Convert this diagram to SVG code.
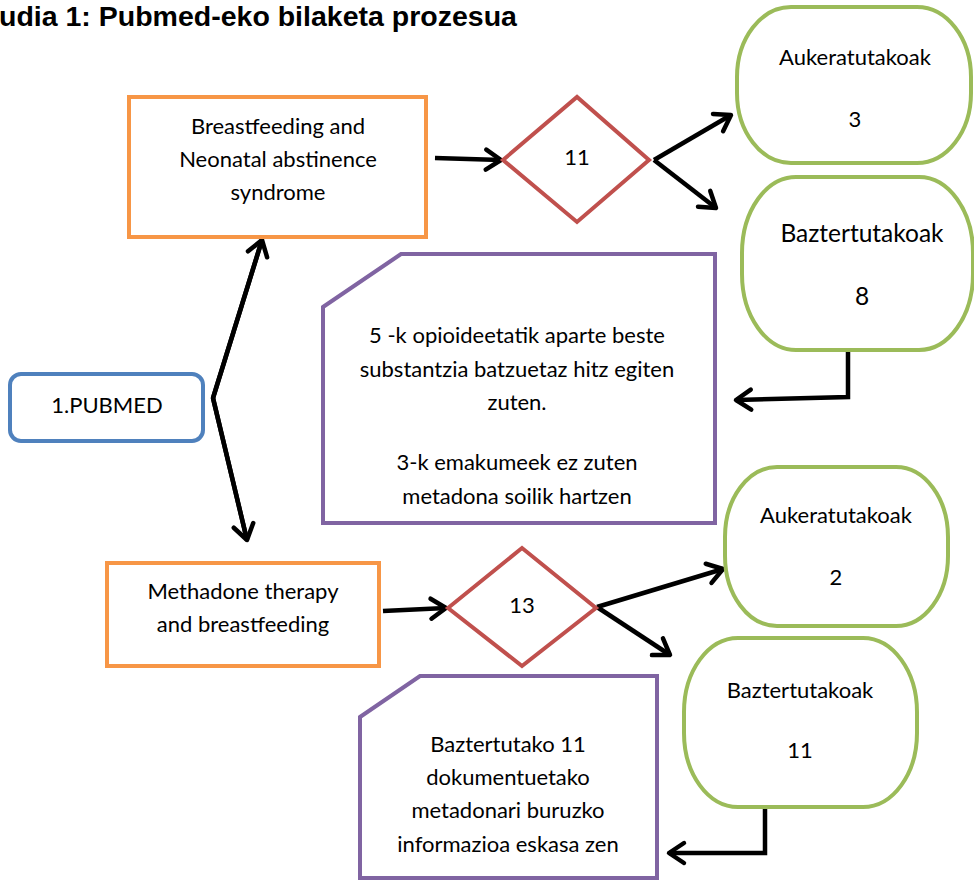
<svg xmlns="http://www.w3.org/2000/svg" width="974" height="881" viewBox="0 0 974 881">
<style>
.t{font-family:Lato,"Liberation Sans",sans-serif;font-size:22px;fill:#000;text-anchor:middle}
.big{font-size:24.5px}
.or{fill:#fff;stroke:#F79646;stroke-width:4}
.rd{fill:#fff;stroke:#C0504D;stroke-width:4}
.gr{fill:#fff;stroke:#9BBB59;stroke-width:4}
.pu{fill:#fff;stroke:#8064A2;stroke-width:4}
.bl{fill:#fff;stroke:#4F81BD;stroke-width:4}
.c{fill:none;stroke:#000;stroke-width:4.5;stroke-linejoin:miter;marker-end:url(#ah)}
.c2{fill:none;stroke:#000;stroke-width:4.5}
</style>
<defs>
<marker id="ah" markerUnits="userSpaceOnUse" viewBox="-20 -14 24 28" refX="0" refY="0" markerWidth="24" markerHeight="28" orient="auto" overflow="visible">
<path d="M -15 -10 L 0 0 L -15 10" fill="none" stroke="#000" stroke-width="4.5" stroke-linecap="round" stroke-linejoin="round"/>
</marker>
</defs>
<rect width="974" height="881" fill="#fff"/>
<text x="-1" y="26" font-family="'Liberation Sans',Arial,sans-serif" font-weight="bold" font-size="28.5">udia 1: Pubmed-eko bilaketa prozesua</text>

<g id="connectors">
<path class="c2" d="M 262 240 L 213 398 L 247 540"/>
<path class="c" d="M 213 398 L 262 240"/>
<path class="c" d="M 213 398 L 247 540"/>
<path class="c" d="M 435 158 L 501 160"/>
<path class="c" d="M 654 160 L 731 115"/>
<path class="c" d="M 654 160 L 716 208"/>
<path class="c" d="M 848 352 L 848 397 L 736 400"/>
<path class="c" d="M 383 611 L 446 608"/>
<path class="c" d="M 597 607 L 723 569"/>
<path class="c" d="M 597 607 L 670 655"/>
<path class="c" d="M 765 809 L 765 853 L 669 853"/>
</g>

<g id="n-pubmed">
<rect class="bl" x="10" y="374" width="193" height="67" rx="11"/>
<text class="t" x="107" y="413">1.PUBMED</text>
</g>

<g id="n-breast-nas">
<rect class="or" x="129" y="97" width="297" height="140"/>
<text class="t" x="278" y="134">Breastfeeding and</text>
<text class="t" x="278" y="167">Neonatal abstinence</text>
<text class="t" x="278" y="200">syndrome</text>
</g>

<g id="n-d11">
<polygon class="rd" points="503,160 577,97 649,160 577,222"/>
<text class="t" x="577" y="165">11</text>
</g>

<g id="n-auk3">
<rect class="gr" x="737" y="7" width="234" height="156" rx="54" ry="70"/>
<text class="t" x="855" y="65">Aukeratutakoak</text>
<text class="t" x="855" y="127">3</text>
</g>

<g id="n-baz8">
<rect class="gr" x="742" y="177" width="231" height="173" rx="54" ry="76"/>
<text class="t big" x="862" y="242">Baztertutakoak</text>
<text class="t big" x="862" y="305">8</text>
</g>

<g id="n-note1">
<path class="pu" d="M 323 307 L 401 254 L 715 254 L 715 523 L 323 523 Z"/>
<text class="t" x="517" y="343">5 -k opioideetatik aparte beste</text>
<text class="t" x="517" y="377">substantzia batzuetaz hitz egiten</text>
<text class="t" x="517" y="410">zuten.</text>
<text class="t" x="517" y="470">3-k emakumeek ez zuten</text>
<text class="t" x="517" y="504">metadona soilik hartzen</text>
</g>

<g id="n-methadone">
<rect class="or" x="107" y="563" width="272" height="103"/>
<text class="t" x="243" y="599">Methadone therapy</text>
<text class="t" x="243" y="632">and breastfeeding</text>
</g>

<g id="n-d13">
<polygon class="rd" points="448,608 522,548 596,608 522,666"/>
<text class="t" x="522" y="613">13</text>
</g>

<g id="n-auk2">
<rect class="gr" x="725" y="467" width="223" height="159" rx="52" ry="70"/>
<text class="t" x="836" y="523">Aukeratutakoak</text>
<text class="t" x="836" y="585">2</text>
</g>

<g id="n-baz11">
<rect class="gr" x="684" y="638" width="233" height="169" rx="54" ry="74"/>
<text class="t" x="800" y="698">Baztertutakoak</text>
<text class="t" x="800" y="758">11</text>
</g>

<g id="n-note2">
<path class="pu" d="M 360 717 L 420 676 L 657 676 L 657 878 L 360 878 Z"/>
<text class="t" x="508" y="752">Baztertutako 11</text>
<text class="t" x="508" y="785">dokumentuetako</text>
<text class="t" x="508" y="818">metadonari buruzko</text>
<text class="t" x="508" y="852">informazioa eskasa zen</text>
</g>
</svg>
